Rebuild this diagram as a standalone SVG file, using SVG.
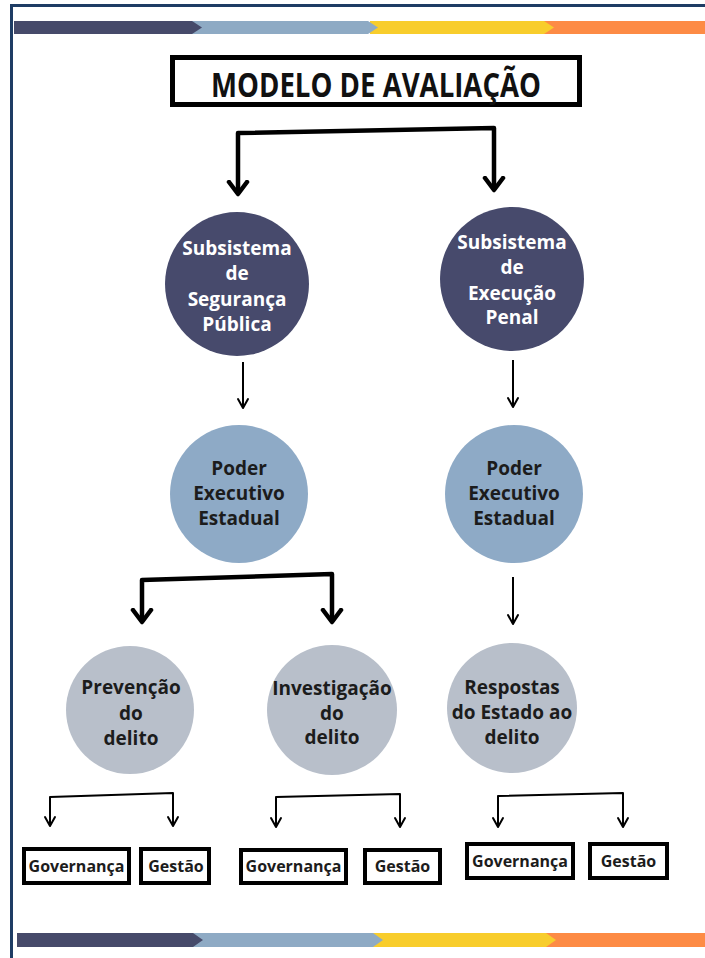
<svg xmlns="http://www.w3.org/2000/svg" width="705" height="958" viewBox="0 0 705 958">
<style>
.lbl{font-family:"Open Sans","Liberation Sans",sans-serif;font-weight:700;text-anchor:middle}
.w{fill:#ffffff;font-size:19px}
.d{fill:#1c1c1c;font-size:19px}
.sm{fill:#1c1c1c;font-size:16px}
.box{fill:#ffffff;stroke:#000000;stroke-width:4}
.thick{fill:none;stroke:#000000;stroke-width:4.5;stroke-linejoin:round}
.thin{fill:none;stroke:#000000;stroke-width:2;stroke-linejoin:round}
.c-dark{fill:#474a6c}
.c-blue{fill:#8eaac6}
.c-gray{fill:#b8bfca}
</style>
<defs>
<marker id="ahThick" markerUnits="userSpaceOnUse" viewBox="-14 -14 28 28" markerWidth="28" markerHeight="28" refX="0" refY="0" orient="auto-start-reverse">
<path d="M-12,-9 L0,0 L-12,9" fill="none" stroke="#000" stroke-width="4.5" stroke-linecap="round" stroke-linejoin="round"/>
</marker>
<marker id="ahThin" markerUnits="userSpaceOnUse" viewBox="-12 -12 24 24" markerWidth="24" markerHeight="24" refX="0" refY="0" orient="auto-start-reverse">
<path d="M-9,-5 L0,0 L-9,5" fill="none" stroke="#000" stroke-width="2" stroke-linecap="round" stroke-linejoin="round"/>
</marker>
</defs>
<rect x="0" y="0" width="705" height="958" fill="#ffffff"/>
<rect x="11.5" y="5.5" width="800" height="1000" fill="none" stroke="#1e3c64" stroke-width="3"/>
<g id="top-bar">
<rect x="400" y="21" width="305" height="13" fill="#fd8b45"/>
<polygon points="370,21 544,21 554,27.5 544,34 370,34" fill="#f8cd2c"/>
<polygon points="190,21 368,21 378,27.5 368,34 190,34" fill="#8eaac4"/>
<polygon points="14,21 192,21 202,27.5 192,34 14,34" fill="#464a6a"/>
</g>
<g id="bottom-bar">
<rect x="400" y="933" width="305" height="14" fill="#fd8b45"/>
<polygon points="370,933 546,933 556,940 546,947 370,947" fill="#f8cd2c"/>
<polygon points="190,933 373,933 383,940 373,947 190,947" fill="#8eaac4"/>
<polygon points="17,933 193,933 203,940 193,947 17,947" fill="#464a6a"/>
</g>
<g id="title">
<rect x="172.5" y="57.5" width="407" height="47" fill="#ffffff" stroke="#000000" stroke-width="5"/>
<text class="lbl" x="376" y="97" font-size="34" fill="#111111" textLength="330" lengthAdjust="spacingAndGlyphs">MODELO DE AVALIAÇÃO</text>
</g>
<g id="connectors">
<path class="thick" d="M238,194 L238,133 L494,128 L494,190" marker-start="url(#ahThick)" marker-end="url(#ahThick)"/>
<path class="thin" d="M243,362 L243,408" marker-end="url(#ahThin)"/>
<path class="thin" d="M513,360 L513,407" marker-end="url(#ahThin)"/>
<path class="thick" d="M142,622 L142,580 L332,574 L332,622" marker-start="url(#ahThick)" marker-end="url(#ahThick)"/>
<path class="thin" d="M513,577 L513,624" marker-end="url(#ahThin)"/>
<path class="thin" d="M50,826 L50,797 L173,793 L173,826" marker-start="url(#ahThin)" marker-end="url(#ahThin)"/>
<path class="thin" d="M276,827 L276,797 L400,794 L400,827" marker-start="url(#ahThin)" marker-end="url(#ahThin)"/>
<path class="thin" d="M498,827 L498,796 L623,793 L623,827" marker-start="url(#ahThin)" marker-end="url(#ahThin)"/>
</g>
<g id="seg-publica">
<circle class="c-dark" cx="237" cy="284" r="72"/>
<text class="lbl w" x="237" y="255">Subsistema</text>
<text class="lbl w" x="237" y="280">de</text>
<text class="lbl w" x="237" y="306">Segurança</text>
<text class="lbl w" x="237" y="331">Pública</text>
</g>
<g id="exec-penal">
<circle class="c-dark" cx="512" cy="279" r="72"/>
<text class="lbl w" x="512" y="249">Subsistema</text>
<text class="lbl w" x="512" y="274">de</text>
<text class="lbl w" x="512" y="300">Execução</text>
<text class="lbl w" x="512" y="324">Penal</text>
</g>
<g id="poder-1">
<circle class="c-blue" cx="239" cy="494" r="69"/>
<text class="lbl d" x="239" y="475">Poder</text>
<text class="lbl d" x="239" y="500">Executivo</text>
<text class="lbl d" x="239" y="525">Estadual</text>
</g>
<g id="poder-2">
<circle class="c-blue" cx="514" cy="494" r="69"/>
<text class="lbl d" x="514" y="475">Poder</text>
<text class="lbl d" x="514" y="500">Executivo</text>
<text class="lbl d" x="514" y="525">Estadual</text>
</g>
<g id="prevencao">
<circle class="c-gray" cx="130" cy="710" r="64"/>
<text class="lbl d" x="131" y="694">Prevenção</text>
<text class="lbl d" x="131" y="720">do</text>
<text class="lbl d" x="131" y="745">delito</text>
</g>
<g id="investigacao">
<circle class="c-gray" cx="332" cy="710" r="65"/>
<text class="lbl d" x="332" y="695">Investigação</text>
<text class="lbl d" x="332" y="720">do</text>
<text class="lbl d" x="332" y="744">delito</text>
</g>
<g id="respostas">
<circle class="c-gray" cx="512" cy="708" r="65"/>
<text class="lbl d" x="512" y="694">Respostas</text>
<text class="lbl d" x="512" y="719">do Estado ao</text>
<text class="lbl d" x="512" y="744">delito</text>
</g>
<g id="gov-1"><rect class="box" x="24" y="849" width="105" height="34"/><text class="lbl sm" x="76.5" y="871.5">Governança</text></g>
<g id="gest-1"><rect class="box" x="141" y="849" width="68" height="34"/><text class="lbl sm" x="176" y="871.5">Gestão</text></g>
<g id="gov-2"><rect class="box" x="241" y="850" width="105" height="33"/><text class="lbl sm" x="293.5" y="872">Governança</text></g>
<g id="gest-2"><rect class="box" x="365" y="850" width="75" height="33"/><text class="lbl sm" x="402.5" y="872">Gestão</text></g>
<g id="gov-3"><rect class="box" x="467" y="844" width="106" height="34"/><text class="lbl sm" x="520" y="866.5">Governança</text></g>
<g id="gest-3"><rect class="box" x="590" y="844" width="77" height="34"/><text class="lbl sm" x="628.5" y="866.5">Gestão</text></g>
</svg>
